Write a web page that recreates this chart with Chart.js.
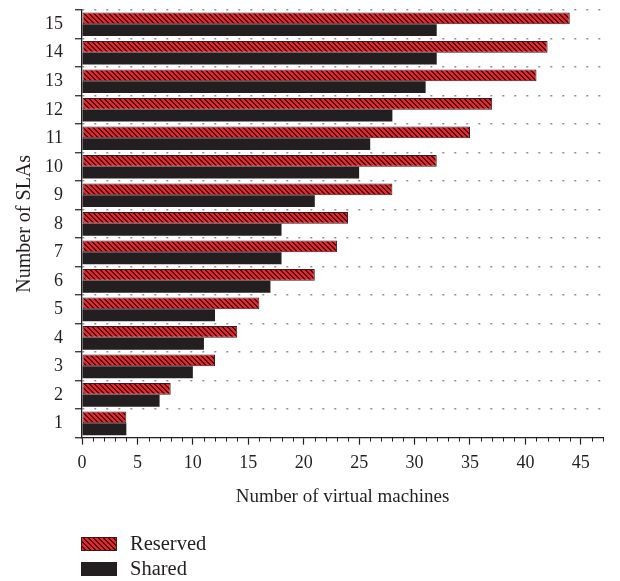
<!DOCTYPE html>
<html>
<head>
<meta charset="utf-8">
<script src="https://cdn.jsdelivr.net/npm/chart.js@4/dist/chart.umd.min.js"></script>
<style>
  html, body { margin: 0; padding: 0; background: #ffffff; }
  #wrap { width: 620px; height: 581px; }
</style>
</head>
<body>
<div id="wrap"><canvas id="c" width="620" height="581"></canvas></div>
<script>
// Number of SLAs (category axis, drawn bottom-to-top)
const slaCounts = ['1', '2', '3', '4', '5', '6', '7', '8', '9', '10', '11', '12', '13', '14', '15'];
// Virtual machines needed per SLA count
const reservedVMs = [4, 8, 12, 14, 16, 21, 23, 24, 28, 32, 35, 37, 41, 42, 44];
const sharedVMs   = [4, 7, 10, 11, 12, 17, 18, 18, 21, 25, 26, 28, 31, 32, 32];
const seriesNames = ['Reserved', 'Shared'];
// Horizontal axis range and labelled step
const vmAxisMin = 0;
const vmAxisMax = 47;
const vmLabelStep = 5;

const INK = '#231f20';
const FONT = '"Liberation Serif", "DejaVu Serif", serif';

// Diagonal red/black hatch used for the reserved bars
function makeHatch() {
  const size = 5;
  const tile = document.createElement('canvas');
  tile.width = size; tile.height = size;
  const tctx = tile.getContext('2d');
  const img = tctx.createImageData(size, size);
  for (let y = 0; y < size; y++) {
    for (let x = 0; x < size; x++) {
      const k = ((x - y) % size + size) % size;
      const dark = k < 2;
      const i = (y * size + x) * 4;
      img.data[i]     = dark ? 0x3c : 0xee;
      img.data[i + 1] = dark ? 0x12 : 0x22;
      img.data[i + 2] = dark ? 0x14 : 0x2a;
      img.data[i + 3] = 255;
    }
  }
  tctx.putImageData(img, 0, 0);
  return document.getElementById('c').getContext('2d').createPattern(tile, 'repeat');
}

// Short unlabelled ticks at every whole number on the horizontal axis
const minorTicks = {
  id: 'minorTicks',
  afterDraw(chart) {
    const xs = chart.scales.x;
    const ctx = chart.ctx;
    ctx.save();
    ctx.strokeStyle = INK;
    ctx.lineWidth = 1;
    xs.ticks.forEach(t => {
      if (t.value % vmLabelStep === 0) return;
      const px = Math.round(xs.getPixelForValue(t.value)) + 0.5;
      ctx.beginPath();
      ctx.moveTo(px, xs.top);
      ctx.lineTo(px, xs.top + 4);
      ctx.stroke();
    });
    ctx.restore();
  }
};

// Stacked key below the axis title
const seriesKey = {
  id: 'seriesKey',
  afterDraw(chart) {
    const ctx = chart.ctx;
    const left = chart.chartArea.left - 1;
    const startY = chart.scales.x.bottom + 25;
    ctx.save();
    chart.data.datasets.forEach((ds, i) => {
      const top = startY + i * 25;
      ctx.fillStyle = ds.backgroundColor;
      ctx.fillRect(left, top, 36, 14);
      ctx.strokeStyle = ds.borderColor;
      ctx.lineWidth = 1;
      ctx.strokeRect(left + 0.5, top + 0.5, 35, 13);
      ctx.fillStyle = INK;
      ctx.font = '20.5px ' + FONT;
      ctx.textBaseline = 'middle';
      ctx.textAlign = 'left';
      ctx.fillText(ds.label, left + 49, top + 7.5);
    });
    ctx.restore();
  }
};

const canvas = document.getElementById('c');
new Chart(canvas, {
  type: 'bar',
  data: {
    labels: slaCounts,
    datasets: [
      {
        label: seriesNames[0],
        data: reservedVMs,
        backgroundColor: makeHatch(),
        borderColor: '#3a1a1c',
        borderWidth: 1,
        borderSkipped: false
      },
      {
        label: seriesNames[1],
        data: sharedVMs,
        backgroundColor: INK,
        borderColor: INK,
        borderWidth: 0
      }
    ]
  },
  options: {
    indexAxis: 'y',
    responsive: false,
    animation: false,
    devicePixelRatio: 1,
    categoryPercentage: 0.83,
    barPercentage: 1.0,
    layout: { padding: { top: 10, right: 17, left: 0, bottom: 69 } },
    plugins: {
      legend: { display: false },
      tooltip: { enabled: false }
    },
    scales: {
      x: {
        type: 'linear',
        min: vmAxisMin,
        max: vmAxisMax,
        afterFit: s => { s.paddingLeft = 0; s.paddingRight = 0; },
        ticks: {
          stepSize: 1,
          autoSkip: false,
          maxRotation: 0,
          padding: 8,
          color: INK,
          font: { family: FONT, size: 18 },
          callback: v => (v % vmLabelStep === 0 ? String(v) : '')
        },
        grid: {
          drawOnChartArea: false,
          drawTicks: true,
          tickLength: 7,
          tickWidth: 1.2,
          tickColor: c => (c.tick && c.tick.value % vmLabelStep === 0 ? INK : 'rgba(0,0,0,0)')
        },
        border: { display: true, color: INK, width: 1.3 },
        title: {
          display: true,
          text: 'Number of virtual machines',
          color: INK,
          font: { family: FONT, size: 19 },
          padding: { top: 3, bottom: 4 }
        }
      },
      y: {
        type: 'category',
        reverse: true,
        afterFit: s => { s.width = 82; s.paddingTop = 0; s.paddingBottom = 0; },
        ticks: {
          padding: 12,
          color: INK,
          font: { family: FONT, size: 18 }
        },
        grid: {
          offset: true,
          lineWidth: 1.5,
          color: c => (c.index === 0 || c.index === slaCounts.length ? 'rgba(0,0,0,0)' : '#8f8f8f'),
          drawTicks: true,
          tickLength: 7,
          tickWidth: 1.2,
          tickColor: INK,
          tickBorderDash: []
        },
        border: { display: true, color: INK, width: 1.3, dash: [2, 10] },
        title: {
          display: true,
          text: 'Number of SLAs',
          color: INK,
          font: { family: FONT, size: 20 },
          padding: { top: 13, bottom: 0 }
        }
      }
    }
  },
  plugins: [minorTicks, seriesKey]
});
</script>
</body>
</html>
